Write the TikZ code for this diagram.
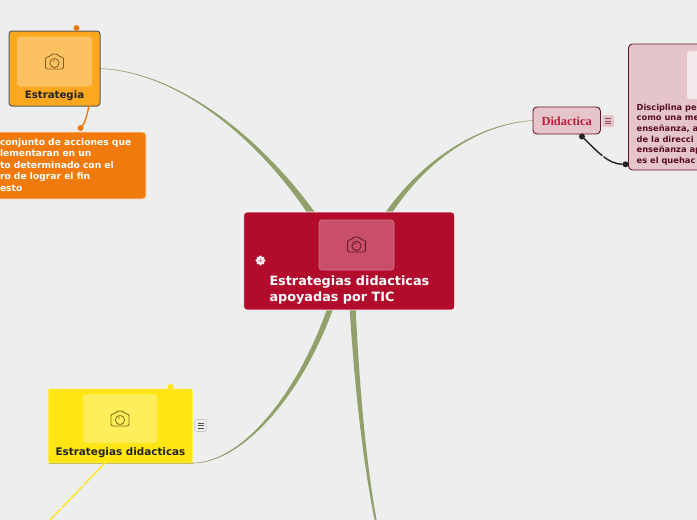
\documentclass[tikz,border=0pt]{standalone}
\usepackage{fontspec}
\setmainfont{DejaVu Sans}
\newfontfamily\serifbold{Liberation Serif}
\usetikzlibrary{calc}
\definecolor{bgc}{HTML}{EDEFEE}
\definecolor{hubred}{HTML}{B20B2C}
\definecolor{brc}{HTML}{94A06C}
\definecolor{orgbox}{HTML}{FBA81E}
\definecolor{orgdeep}{HTML}{F07A0C}
\definecolor{pinkbox}{HTML}{E6C5CA}
\definecolor{pinkline}{HTML}{6B1027}
\definecolor{yelbox}{HTML}{FFE612}
\definecolor{inkc}{HTML}{222222}
\tikzset{
 x=1pt,y=-1pt,
 boxbase/.style={inner sep=0pt,outer sep=0pt,rectangle,rounded corners=3pt},
 strbox/.style={boxbase,fill=orgbox,draw=inkc!75,line width=1pt,minimum width=91pt,minimum height=75pt},
 notebox/.style={boxbase,fill=orgdeep,draw=white!85!orgdeep,line width=.8pt,minimum width=160pt,minimum height=67pt},
 hubbox/.style={boxbase,fill=hubred,draw=white,line width=.8pt,minimum width=211pt,minimum height=98pt},
 pinkb/.style={boxbase,rounded corners=4pt,fill=pinkbox,draw=pinkline,line width=.9pt},
 yelb/.style={boxbase,rounded corners=1pt,fill=yelbox,draw=yelbox!70!white,line width=.6pt,minimum width=144pt,minimum height=74pt},
 imgbox/.style={boxbase,minimum width=75pt,minimum height=50pt,fill=white,line width=.6pt},
 boldlab/.style={inner sep=0pt,outer sep=0pt,font=\fontsize{#1}{#1}\selectfont\bfseries},
 twig/.style={line width=1.4pt},
 dotc/.style={circle,inner sep=0pt,outer sep=0pt,minimum size=6pt},
 menub/.style={boxbase,rounded corners=1.5pt,minimum width=11.5pt,minimum height=12pt,line width=.6pt},
 campic/.pic={
  \draw[line width=.9pt,rounded corners=1.5pt,pic actions]
    (-9,-5) -- (-5,-5) -- (-3,-8) -- (3,-8) -- (5,-5) -- (9,-5) -- (9,7) -- (-9,7) -- cycle;
  \draw[line width=.8pt,pic actions] (0,1) circle (4.6pt);
  \draw[line width=.6pt,pic actions] (-1.5,-.5) -- (0,-1.6);
 },
 menupic/.pic={
  \draw[line width=.8pt,pic actions] (-3,-2.6) -- (3,-2.6) (-3,0) -- (3,0) (-3,2.6) -- (3,2.6);
 }
}
\begin{document}
\begin{tikzpicture}
\useasboundingbox (0,0) rectangle (697,520);
\clip (0,0) rectangle (697,520);
\fill[bgc] (0,0) rectangle (697,520);

% nodes, named here so that the branches can run between them
\path node[strbox,draw=none,fill=none] (strat) at (54.5,68.5) {}
      node[hubbox,draw=none,fill=none] (hub) at (349.2,261) {}
      node[pinkb,draw=none,fill=none,minimum width=67.5pt,minimum height=27pt] (did) at (566.7,120.5) {}
      node[yelb,draw=none,fill=none] (yel) at (120.5,426) {};
\coordinate (botend) at (376,522);
\coordinate (dashend) at (48,522);

% branches
\draw[brc!70!bgc,line width=.7pt] (strat.east) .. controls (180,72) and (260,140) .. ([xshift=67pt]hub.north west);
\fill[brc] (strat.east) .. controls (180,71.6) and (261.5,139) .. ([xshift=71pt]hub.north west)
  -- ([xshift=63pt]hub.north west) .. controls (258.5,141) and (180,72.4) .. (strat.east) -- cycle;
\draw[brc!70!bgc,line width=.7pt] (did.west) .. controls (478,124) and (425,160) .. ([xshift=145pt]hub.north west);
\fill[brc] (did.west) .. controls (478,124.6) and (426.3,161) .. ([xshift=149pt]hub.north west)
  -- ([xshift=142pt]hub.north west) .. controls (423.7,159) and (478,123.4) .. (did.west) -- cycle;
\draw[brc!70!bgc,line width=.7pt] ([xshift=86pt]hub.south west) .. controls (298,398) and (240,463.5) .. (yel.south east);
\fill[brc] ([xshift=89pt]hub.south west) .. controls (300.2,399) and (240,464.2) .. (yel.south east)
  -- (yel.south east) .. controls (240,462.8) and (295.8,397) .. ([xshift=83pt]hub.south west) -- cycle;
\draw[brc,line width=.9pt] (yel.south west) -- (yel.south east);
\fill[brc] ([xshift=112pt]hub.south west) .. controls (359.5,385) and (365.5,460) .. ([xshift=1pt]botend)
  -- ([xshift=-1pt]botend) .. controls (362.5,460) and (354.5,385) .. ([xshift=106pt]hub.south west) -- cycle;

% boxes
\node[strbox] (strat2) at (strat.center) {};
\node[notebox] (note) at (66,165.5) {};
\node[hubbox] (hub2) at (hub.center) {};
\node[pinkb,minimum width=67.5pt,minimum height=27pt] (did2) at (did.center) {};
\node[pinkb,minimum width=90pt,minimum height=126pt] (disc) at (673.5,107) {};
\node[yelb] (yel2) at (yel.center) {};

% image placeholders
\node[imgbox,fill=white!30!orgbox] (img1) at (54.5,61.5) {};
\pic[draw=inkc!55!orgbox] at (54.5,62) {campic};
\node[imgbox,fill=white!28!hubred,draw=white!45!hubred] (img2) at (356.5,245) {};
\pic[draw=inkc!55!hubred] at (356.5,245) {campic};
\node[imgbox,fill=white!30!yelbox,draw=white!20!yelbox,minimum width=74pt,minimum height=49pt] (img3) at (120,418.5) {};
\pic[draw=inkc!60!yelbox] at (120,419) {campic};
\node[boxbase,fill=white!65!pinkbox,minimum width=40pt,minimum height=48pt,anchor=north west] (img4) at (687,51) {};

% labels
\node[boldlab=10.2,text=inkc] (l1) at (54.5,96) {Estrategia};
\node[inner sep=0pt,outer sep=0pt,font=\fontsize{9.15}{11.5}\selectfont\bfseries,text=white,anchor=north west,align=left] (l2) at (0,138.5)
 {conjunto de acciones que\\lementaran en un\\to determinado con el\\ro de lograr el fin\\esto};
\node[inner sep=0pt,outer sep=0pt,font=\fontsize{12.8}{16}\selectfont\bfseries,text=white,anchor=north west,align=left] (l3) at (269.5,275.5)
 {Estrategias didacticas\\apoyadas por TIC};
\node[inner sep=0pt,font=\serifbold\fontsize{12.4}{12.4}\selectfont\bfseries,text=hubred!90!pink] (l4) at (566.7,121) {Didactica};
\node[inner sep=0pt,outer sep=0pt,font=\fontsize{8.3}{10.6}\selectfont\bfseries,text=pinkline!80!black,anchor=north west,align=left] (l5) at (636.7,104)
 {Disciplina pe\\como una me\\enseñanza, a\\de la direcci\\enseñanza ap\\es el quehac};
\node[boldlab=10.4,text=inkc] (l6) at (120.5,453) {Estrategias didacticas};

% small connectors and dots
\node[dotc,fill=orgdeep] (d1) at (76.5,28) {};
\draw[inkc!60,twig] (d1) -- (76.5,31);
\node[dotc,fill=orgdeep] (d2) at (80.5,128) {};
\draw[orgdeep,twig] ([xshift=34.5pt]strat.south) .. controls (87,115) and (85,123) .. (d2);
\node[dotc,fill=inkc] (d3) at (582,136.5) {};
\node[dotc,fill=inkc] (d4) at (625.5,164.3) {};
\draw[inkc,twig,dash pattern=on 25pt off 1.5pt on 100pt off 0pt] (d3) .. controls (598,152) and (608,164) .. (d4);
\node[dotc,fill=yelbox] (d5) at (170.5,387) {};
\draw[yelbox,line width=1.3pt,dash pattern=on 30pt off 2pt] ([xshift=-15.5pt]yel.south) -- (dashend);

% icons
\node[menub,fill=pinkbox,draw=none] (m1) at (608.2,121) {};
\pic[draw=pinkline!70!pinkbox] at (608.2,121) {menupic};
\node[menub,fill=bgc,draw=inkc!25] (m2) at (200.5,425.5) {};
\pic[draw=inkc!80] at (200.5,425.5) {menupic};
\node[circle,fill=white!90!hubred,inner sep=0pt,minimum size=8.5pt] (g0) at (260.5,260.5) {};
\foreach \a in {0,45,...,315}{\fill[white!90!hubred] (260.5,260.5)++(\a:3.8pt) circle (1.3pt);}
\node[circle,fill=hubred!55!white,inner sep=0pt,minimum size=3pt] (g1) at (260.5,260.5) {};
\end{tikzpicture}
\end{document}
